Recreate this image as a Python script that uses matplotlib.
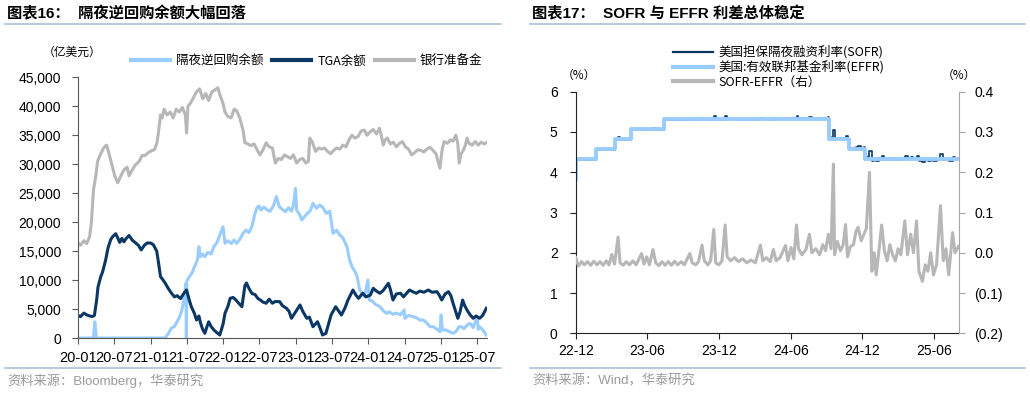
import numpy as np
import pandas as pd
import matplotlib
matplotlib.use('Agg')
import matplotlib.pyplot as plt
import matplotlib.dates as mdates
from matplotlib.lines import Line2D
from matplotlib.ticker import FuncFormatter

plt.rcParams['font.family'] = ['Liberation Sans', 'Noto Sans CJK SC', 'DejaVu Sans']
CJK = ['Noto Sans CJK SC', 'DejaVu Sans']

# ---------- 图表16 data (亿美元) ----------
rrp = [('2020-01-01', 0), ('2020-03-20', 0), ('2020-03-27', 2800), ('2020-04-03', 200), ('2020-04-10', 0),
       ('2021-03-15', 0), ('2021-04-01', 800), ('2021-04-15', 1670), ('2021-05-01', 2000), ('2021-05-10', 2540),
       ('2021-05-25', 3500), ('2021-06-05', 4500), ('2021-06-15', 6000), ('2021-06-28', 9440), ('2021-06-30', 0),
       ('2021-07-02', 9800), ('2021-07-15', 10580), ('2021-07-28', 11200), ('2021-08-10', 12300), ('2021-08-25', 13500),
       ('2021-09-01', 15760), ('2021-09-08', 14030), ('2021-09-20', 14500), ('2021-10-01', 14030), ('2021-10-15', 14800),
       ('2021-11-01', 14500), ('2021-11-15', 15760), ('2021-12-01', 16500), ('2021-12-15', 17800), ('2021-12-31', 19210),
       ('2022-01-10', 16340), ('2022-01-25', 16800), ('2022-02-10', 16300), ('2022-02-25', 16900), ('2022-03-10', 16340),
       ('2022-03-25', 17000), ('2022-04-10', 18000), ('2022-04-25', 18640), ('2022-05-10', 18200), ('2022-05-25', 19210),
       ('2022-06-10', 21500), ('2022-06-20', 22500), ('2022-06-30', 22800), ('2022-07-10', 22090), ('2022-07-25', 22600),
       ('2022-08-10', 22090), ('2022-08-25', 21900), ('2022-09-10', 22800), ('2022-09-25', 24390), ('2022-10-10', 22660),
       ('2022-10-25', 22200), ('2022-11-10', 21800), ('2022-11-25', 22500), ('2022-12-10', 21900), ('2022-12-20', 22900),
       ('2022-12-30', 25830), ('2023-01-05', 22090), ('2023-01-20', 21300), ('2023-01-31', 20370), ('2023-02-15', 21000),
       ('2023-02-28', 21520), ('2023-03-15', 22000), ('2023-03-28', 23240), ('2023-04-15', 22400), ('2023-05-01', 22950),
       ('2023-05-15', 22600), ('2023-06-03', 21520), ('2023-06-20', 21900), ('2023-07-07', 18070), ('2023-07-25', 18600),
       ('2023-08-10', 17780), ('2023-08-25', 17300), ('2023-09-05', 16500), ('2023-09-15', 15760), ('2023-09-28', 13500),
       ('2023-10-10', 12300), ('2023-10-25', 11500), ('2023-11-05', 10580), ('2023-11-18', 8280), ('2023-12-12', 7130),
       ('2023-12-29', 10010), ('2024-01-05', 6560), ('2024-01-20', 6400), ('2024-02-05', 5800), ('2024-02-28', 5400),
       ('2024-03-15', 4700), ('2024-04-01', 4260), ('2024-04-15', 4500), ('2024-05-01', 4100), ('2024-05-20', 4300),
       ('2024-06-10', 4000), ('2024-06-28', 4830), ('2024-07-02', 3400), ('2024-07-20', 3900), ('2024-08-12', 3680),
       ('2024-08-30', 3500), ('2024-09-15', 3100), ('2024-10-03', 3110), ('2024-10-20', 2600), ('2024-11-05', 1950),
       ('2024-11-22', 1950), ('2024-12-10', 1500), ('2024-12-25', 1090), ('2024-12-31', 3970), ('2025-01-06', 1400),
       ('2025-01-25', 1380), ('2025-02-10', 1100), ('2025-03-01', 810), ('2025-03-15', 1100), ('2025-03-31', 1950),
       ('2025-04-12', 1950), ('2025-04-25', 1600), ('2025-05-10', 2200), ('2025-05-25', 2540), ('2025-06-10', 1800),
       ('2025-06-30', 3680), ('2025-07-05', 1500), ('2025-07-12', 1950), ('2025-07-28', 1400), ('2025-08-15', 520)]

tga = [('2020-01-01', 3900), ('2020-01-15', 3700), ('2020-02-01', 4300), ('2020-02-15', 4000), ('2020-03-01', 3800),
       ('2020-03-15', 3700), ('2020-03-25', 3900), ('2020-04-05', 6500), ('2020-04-12', 8800), ('2020-04-25', 10500),
       ('2020-05-05', 11400), ('2020-05-20', 13400), ('2020-06-01', 15500), ('2020-06-15', 17000), ('2020-06-25', 17500),
       ('2020-07-10', 18000), ('2020-07-20', 17300), ('2020-07-30', 16500), ('2020-08-10', 17200), ('2020-08-20', 16600),
       ('2020-09-01', 17200), ('2020-09-15', 17700), ('2020-10-01', 16900), ('2020-10-15', 16500), ('2020-11-01', 16000),
       ('2020-11-15', 15200), ('2020-12-01', 16000), ('2020-12-15', 16400), ('2021-01-01', 16400), ('2021-01-15', 16100),
       ('2021-02-01', 15000), ('2021-02-10', 13000), ('2021-02-20', 10600), ('2021-03-05', 10000), ('2021-03-15', 9500),
       ('2021-04-01', 8500), ('2021-04-15', 7800), ('2021-05-01', 7100), ('2021-05-15', 7300), ('2021-06-01', 6800),
       ('2021-06-15', 7600), ('2021-07-01', 8300), ('2021-07-15', 6500), ('2021-07-25', 5400), ('2021-08-10', 4200),
       ('2021-08-20', 3100), ('2021-09-01', 3800), ('2021-09-10', 2500), ('2021-09-20', 1500), ('2021-10-01', 800),
       ('2021-10-10', 1800), ('2021-10-20', 2800), ('2021-11-01', 2000), ('2021-11-15', 1400), ('2021-12-01', 900),
       ('2021-12-15', 520), ('2022-01-01', 2500), ('2022-01-10', 4260), ('2022-01-25', 5500), ('2022-02-05', 6850),
       ('2022-02-20', 7000), ('2022-03-05', 6600), ('2022-03-20', 6000), ('2022-04-05', 5400), ('2022-04-20', 9000),
       ('2022-04-28', 9500), ('2022-05-10', 8600), ('2022-05-25', 7700), ('2022-06-10', 7500), ('2022-06-25', 6800),
       ('2022-07-05', 6600), ('2022-07-20', 6200), ('2022-08-05', 6000), ('2022-08-20', 6700), ('2022-09-05', 6000),
       ('2022-09-20', 6300), ('2022-10-12', 6270), ('2022-10-25', 5600), ('2022-11-15', 5130), ('2022-11-28', 4600),
       ('2022-12-10', 3400), ('2022-12-25', 4200), ('2023-01-22', 5700), ('2023-02-05', 4600), ('2023-02-25', 3400),
       ('2023-03-10', 3600), ('2023-03-28', 1950), ('2023-04-20', 2810), ('2023-05-05', 1500), ('2023-05-15', 520),
       ('2023-06-01', 810), ('2023-06-15', 2500), ('2023-06-27', 3970), ('2023-07-20', 5400), ('2023-08-05', 4600),
       ('2023-08-18', 3970), ('2023-09-05', 5200), ('2023-09-20', 6560), ('2023-10-15', 8280), ('2023-10-30', 7400),
       ('2023-11-12', 6850), ('2023-12-03', 7720), ('2023-12-20', 7100), ('2024-01-10', 7400), ('2024-01-25', 8580),
       ('2024-02-10', 8100), ('2024-02-27', 7720), ('2024-03-15', 8200), ('2024-04-10', 9440), ('2024-04-20', 8400),
       ('2024-05-03', 6560), ('2024-05-20', 7600), ('2024-06-10', 7720), ('2024-06-25', 7100), ('2024-07-10', 7700),
       ('2024-07-25', 8280), ('2024-08-10', 8000), ('2024-08-28', 7720), ('2024-09-15', 8100), ('2024-10-05', 7900),
       ('2024-10-28', 8280), ('2024-11-15', 7900), ('2024-12-10', 7990), ('2024-12-20', 7500), ('2025-01-03', 6560),
       ('2025-01-20', 7600), ('2025-02-06', 7990), ('2025-02-18', 7300), ('2025-03-01', 5990), ('2025-03-12', 4800),
       ('2025-03-25', 3400), ('2025-04-05', 4500), ('2025-04-18', 6560), ('2025-04-28', 5600), ('2025-05-15', 4540),
       ('2025-05-28', 3900), ('2025-06-10', 3400), ('2025-06-25', 3800), ('2025-07-12', 3400), ('2025-07-28', 3900),
       ('2025-08-15', 5130)]

reserves = [('2020-01-01', 16500), ('2020-01-15', 16000), ('2020-02-01', 16800), ('2020-02-15', 16300), ('2020-03-01', 17500),
            ('2020-03-10', 20000), ('2020-03-20', 25500), ('2020-04-01', 28000), ('2020-04-10', 30500), ('2020-04-22', 31500),
            ('2020-05-10', 32800), ('2020-05-25', 33300), ('2020-06-05', 32000), ('2020-06-20', 30000), ('2020-07-05', 28000),
            ('2020-07-20', 26800), ('2020-08-05', 28000), ('2020-08-20', 29000), ('2020-09-05', 29500), ('2020-09-15', 28000),
            ('2020-10-01', 29000), ('2020-10-15', 29800), ('2020-11-05', 30500), ('2020-11-20', 31500), ('2020-12-05', 31500),
            ('2020-12-20', 32000), ('2021-01-05', 32300), ('2021-01-20', 32500), ('2021-02-01', 33500), ('2021-02-10', 35500),
            ('2021-02-20', 38500), ('2021-03-01', 38000), ('2021-03-10', 39500), ('2021-03-25', 38500), ('2021-04-10', 39000),
            ('2021-04-25', 38000), ('2021-05-10', 39500), ('2021-05-25', 39000), ('2021-06-10', 39800), ('2021-06-25', 38500),
            ('2021-07-01', 35400), ('2021-07-08', 40000), ('2021-07-20', 40500), ('2021-08-05', 41500), ('2021-08-20', 42500),
            ('2021-09-05', 43000), ('2021-09-20', 41300), ('2021-10-05', 42200), ('2021-10-20', 41000), ('2021-11-05', 42500),
            ('2021-11-20', 42800), ('2021-12-05', 43200), ('2021-12-15', 42000), ('2021-12-31', 40500), ('2022-01-10', 39000),
            ('2022-01-25', 38200), ('2022-02-10', 38000), ('2022-02-25', 39500), ('2022-03-10', 39200), ('2022-03-25', 38000),
            ('2022-04-10', 36000), ('2022-04-20', 33700), ('2022-05-05', 33500), ('2022-05-20', 33200), ('2022-06-05', 33500),
            ('2022-06-20', 32500), ('2022-07-05', 31600), ('2022-07-20', 32500), ('2022-08-05', 33700), ('2022-08-20', 33000),
            ('2022-09-05', 32800), ('2022-09-20', 30200), ('2022-10-05', 31000), ('2022-10-20', 30800), ('2022-11-05', 31600),
            ('2022-11-20', 31300), ('2022-12-05', 31000), ('2022-12-20', 31600), ('2023-01-05', 30200), ('2023-01-20', 30800),
            ('2023-02-05', 31000), ('2023-02-20', 30200), ('2023-03-05', 30500), ('2023-03-12', 34500), ('2023-03-25', 33800),
            ('2023-04-10', 32200), ('2023-04-25', 32800), ('2023-05-10', 32600), ('2023-05-25', 32800), ('2023-06-10', 32200),
            ('2023-06-25', 31800), ('2023-07-10', 32400), ('2023-07-25', 32800), ('2023-08-10', 32600), ('2023-08-25', 33300),
            ('2023-09-10', 33000), ('2023-09-25', 34200), ('2023-10-10', 35000), ('2023-10-25', 34500), ('2023-11-10', 34800),
            ('2023-11-25', 35700), ('2023-12-10', 35900), ('2023-12-25', 35000), ('2024-01-10', 35600), ('2024-01-25', 36000),
            ('2024-02-10', 35200), ('2024-02-25', 36200), ('2024-03-05', 35000), ('2024-03-15', 33300), ('2024-03-25', 34200),
            ('2024-04-05', 34500), ('2024-04-20', 33500), ('2024-05-05', 33800), ('2024-05-20', 33000), ('2024-06-05', 33600),
            ('2024-06-20', 33900), ('2024-07-05', 33000), ('2024-07-20', 32600), ('2024-08-05', 31600), ('2024-08-20', 32000),
            ('2024-09-05', 32500), ('2024-09-20', 32400), ('2024-10-05', 32100), ('2024-10-20', 32600), ('2024-11-05', 32900),
            ('2024-11-20', 32400), ('2024-12-05', 31800), ('2024-12-25', 29300), ('2025-01-05', 32500), ('2025-01-15', 33900),
            ('2025-02-01', 33600), ('2025-02-15', 34200), ('2025-03-01', 34000), ('2025-03-15', 35000), ('2025-03-25', 33500),
            ('2025-04-01', 30200), ('2025-04-10', 31800), ('2025-04-20', 32300), ('2025-05-01', 33200), ('2025-05-10', 34500),
            ('2025-05-20', 33600), ('2025-06-05', 33300), ('2025-06-20', 33900), ('2025-07-05', 33300), ('2025-07-20', 33800),
            ('2025-08-05', 33500), ('2025-08-15', 33700)]

left_ticks = ['2020-01-01', '2020-07-01', '2021-01-01', '2021-07-01', '2022-01-01', '2022-07-01',
              '2023-01-01', '2023-07-01', '2024-01-01', '2024-07-01', '2025-01-01', '2025-07-01']

# ---------- 图表17 data (%) ----------
effr = [('2022-12-13', 3.83), ('2022-12-15', 4.33), ('2023-02-02', 4.58), ('2023-03-23', 4.83),
        ('2023-05-04', 5.08), ('2023-07-27', 5.33), ('2024-09-19', 4.83), ('2024-11-08', 4.58),
        ('2024-12-19', 4.33), ('2025-08-15', 4.33)]

spread = [('2022-12-13', -0.012), ('2022-12-20', -0.033), ('2022-12-28', -0.022), ('2023-01-04', -0.03),
          ('2023-01-12', -0.022), ('2023-01-20', -0.031), ('2023-01-28', -0.021), ('2023-02-05', -0.03),
          ('2023-02-13', -0.022), ('2023-02-21', -0.031), ('2023-03-01', -0.02), ('2023-03-08', -0.03),
          ('2023-03-15', -0.004), ('2023-03-22', -0.028), ('2023-03-31', 0.039), ('2023-04-05', -0.025),
          ('2023-04-13', -0.031), ('2023-04-21', -0.022), ('2023-04-29', -0.03), ('2023-05-08', -0.02),
          ('2023-05-16', -0.03), ('2023-05-30', -0.002), ('2023-06-05', -0.028), ('2023-06-12', -0.01),
          ('2023-06-19', -0.03), ('2023-06-28', 0.008), ('2023-07-05', -0.025), ('2023-07-13', -0.032),
          ('2023-07-21', -0.022), ('2023-07-29', -0.031), ('2023-08-06', -0.022), ('2023-08-14', -0.031),
          ('2023-08-22', -0.021), ('2023-08-30', -0.03), ('2023-09-08', -0.022), ('2023-09-16', -0.03),
          ('2023-09-30', -0.002), ('2023-10-06', -0.025), ('2023-10-15', -0.03), ('2023-10-22', -0.022),
          ('2023-10-31', 0.019), ('2023-11-06', -0.02), ('2023-11-15', -0.03), ('2023-11-22', -0.02),
          ('2023-11-30', 0.058), ('2023-12-05', -0.025), ('2023-12-13', -0.03), ('2023-12-21', -0.02),
          ('2023-12-29', 0.069), ('2024-01-03', -0.01), ('2024-01-12', -0.02), ('2024-01-22', -0.012),
          ('2024-02-01', -0.022), ('2024-02-12', -0.015), ('2024-02-22', -0.025), ('2024-03-04', -0.018),
          ('2024-03-15', -0.025), ('2024-03-28', 0.019), ('2024-04-03', -0.02), ('2024-04-12', -0.012),
          ('2024-04-22', -0.022), ('2024-04-30', 0.008), ('2024-05-07', -0.02), ('2024-05-17', -0.012),
          ('2024-05-31', 0.018), ('2024-06-06', -0.02), ('2024-06-14', 0.013), ('2024-06-21', -0.015),
          ('2024-06-28', 0.069), ('2024-07-03', 0.01), ('2024-07-12', -0.005), ('2024-07-22', 0.008),
          ('2024-07-31', 0.046), ('2024-08-06', 0.0), ('2024-08-16', 0.01), ('2024-08-26', -0.005),
          ('2024-09-03', 0.02), ('2024-09-10', 0.005), ('2024-09-17', 0.046), ('2024-09-24', 0.01),
          ('2024-09-30', 0.22), ('2024-10-03', -0.005), ('2024-10-10', 0.028), ('2024-10-18', 0.005),
          ('2024-10-25', 0.02), ('2024-10-31', 0.07), ('2024-11-05', -0.01), ('2024-11-12', 0.015),
          ('2024-11-20', 0.02), ('2024-11-27', 0.054), ('2024-12-02', 0.063), ('2024-12-10', 0.03),
          ('2024-12-17', 0.046), ('2024-12-23', 0.06), ('2024-12-31', 0.2), ('2025-01-06', -0.046),
          ('2025-01-12', 0.0), ('2025-01-17', -0.055), ('2025-01-25', 0.013), ('2025-01-31', 0.069),
          ('2025-02-07', 0.005), ('2025-02-14', -0.02), ('2025-02-21', 0.02), ('2025-02-28', -0.005),
          ('2025-03-07', -0.02), ('2025-03-14', 0.01), ('2025-03-21', -0.005), ('2025-03-31', 0.079),
          ('2025-04-07', -0.005), ('2025-04-15', 0.046), ('2025-04-22', 0.0), ('2025-04-30', 0.079),
          ('2025-05-06', -0.046), ('2025-05-15', -0.071), ('2025-05-22', -0.03), ('2025-05-29', -0.046),
          ('2025-06-05', 0.0), ('2025-06-12', -0.055), ('2025-06-20', -0.03), ('2025-06-30', 0.117),
          ('2025-07-07', -0.02), ('2025-07-14', 0.01), ('2025-07-21', -0.055), ('2025-07-31', 0.05),
          ('2025-08-06', 0.0), ('2025-08-15', 0.016)]

right_ticks = ['2022-12-13', '2023-06-13', '2023-12-13', '2024-06-13', '2024-12-13', '2025-06-13']

NAVY = '#0b3764'
LIGHT = '#99ccff'
GRAY = '#b7b7b7'
SEP = '#a9c1d9'

W, H = 1030, 393
fig = plt.figure(figsize=(W / 100, H / 100), dpi=100)


def box(x0, y0, x1, y1):
    return [x0 / W, 1 - y1 / H, (x1 - x0) / W, (y1 - y0) / H]


def split(pairs):
    d = pd.to_datetime([p[0] for p in pairs])
    v = np.array([p[1] for p in pairs], dtype=float)
    return d, v


def hline(x0, x1, y):
    fig.add_artist(Line2D([x0 / W, x1 / W], [1 - y / H] * 2, color=SEP, lw=1.2))


# titles, separators, sources
fig.text(7 / W, 1 - 14 / H, '图表16：  隔夜逆回购余额大幅回落', fontsize=11, fontweight='bold', va='center')
fig.text(532 / W, 1 - 14 / H, '图表17：  SOFR 与 EFFR 利差总体稳定', fontsize=11, fontweight='bold', va='center')
hline(5, 501, 23.5)
hline(530, 1025, 23.5)
hline(5, 501, 368)
hline(530, 1025, 368)
fig.text(7 / W, 1 - 381 / H, '资料来源：Bloomberg，华泰研究', fontsize=9.5, color='#9a9a9a', va='center')
fig.text(532 / W, 1 - 381 / H, '资料来源：Wind，华泰研究', fontsize=9.5, color='#9a9a9a', va='center')

# ---------- left chart ----------
ax = fig.add_axes(box(77.7, 77.3, 486.7, 338))
d, v = split(rrp)
ax.plot(d, v, color=LIGHT, lw=2.2, label='隔夜逆回购余额')
d, v = split(tga)
ax.plot(d, v, color=NAVY, lw=2.2, label='TGA余额')
d, v = split(reserves)
ax.plot(d, v, color=GRAY, lw=2.2, label='银行准备金')
ax.set_ylim(0, 45000)
ax.set_xlim(pd.Timestamp('2020-01-01'), pd.Timestamp('2025-08-17'))
ax.set_yticks(np.arange(0, 45001, 5000))
ax.yaxis.set_major_formatter(FuncFormatter(lambda x, p: f'{x:,.0f}'))
ax.set_xticks(pd.to_datetime(left_ticks))
ax.xaxis.set_major_formatter(mdates.DateFormatter('%y-%m'))
for s in ['top', 'right']:
    ax.spines[s].set_visible(False)
for s in ['left', 'bottom']:
    ax.spines[s].set_color('#595959')
ax.tick_params(axis='y', direction='out', length=4, color='#595959', labelsize=10, pad=8)
ax.tick_params(axis='x', direction='out', length=4, color='#595959', labelsize=10.5, pad=5)
fig.text(72 / W, 1 - 52 / H, '（亿美元）', fontsize=8.5, family=CJK, ha='center', va='center')
leg = ax.legend(ncol=3, frameon=False, loc='center left', bbox_to_anchor=(131 / W, 1 - 61 / H),
                bbox_transform=fig.transFigure, prop={'family': CJK, 'size': 9},
                handlelength=3.1, handletextpad=0.5, columnspacing=0.7, borderpad=0, borderaxespad=0)
for h in leg.get_lines():
    h.set_linewidth(3)

# ---------- right chart ----------
ax2 = fig.add_axes(box(575.7, 91.7, 959.3, 333.3))
ax3 = ax2.twinx()
ed, ev = split(effr)
sd, sv = split(spread)
# SOFR = EFFR + (SOFR-EFFR), evaluated on the combined dates
alld = ed.union(sd)
eff_at = ev[np.searchsorted(ed.values, alld.values, side='right') - 1]
spr_at = np.interp(alld.values.astype('int64'), sd.values.astype('int64'), sv)
ax2.plot(alld, eff_at + spr_at, color=NAVY, lw=1.2, drawstyle='steps-post', label='美国担保隔夜融资利率(SOFR)')
ax2.plot(ed, ev, color=LIGHT, lw=2.8, drawstyle='steps-post', label='美国:有效联邦基金利率(EFFR)')
ax3.plot(sd, sv, color=GRAY, lw=2.2, label='SOFR-EFFR（右）')
ax2.set_ylim(0, 6)
ax3.set_ylim(-0.2, 0.4)
ax2.set_xlim(pd.Timestamp('2022-12-13'), pd.Timestamp('2025-08-17'))
ax2.set_yticks(range(0, 7))
ax3.set_yticks(np.arange(-0.2, 0.41, 0.1))
ax3.yaxis.set_major_formatter(FuncFormatter(lambda x, p: f'({abs(x):.1f})' if x < -1e-9 else f'{abs(x):.1f}'))
ax2.set_xticks(pd.to_datetime(right_ticks))
ax2.xaxis.set_major_formatter(mdates.DateFormatter('%y-%m'))
for a in (ax2, ax3):
    a.spines['top'].set_visible(False)
ax2.spines['right'].set_visible(False)
ax3.spines['left'].set_visible(False)
ax3.spines['bottom'].set_visible(False)
ax2.spines['left'].set_color('#222222')
ax2.spines['bottom'].set_color('#222222')
ax3.spines['right'].set_color('#a6a6a6')
ax2.tick_params(axis='y', direction='out', length=4, color='#222222', labelsize=10, pad=9)
ax2.tick_params(axis='x', direction='out', length=4, color='#222222', labelsize=10, pad=4)
ax3.tick_params(axis='y', direction='out', length=4, color='#a6a6a6', labelsize=10, pad=7)
fig.text(579 / W, 1 - 75 / H, '（%）', fontsize=8.5, family=CJK, ha='center', va='center')
fig.text(959 / W, 1 - 75 / H, '（%）', fontsize=8.5, family=CJK, ha='center', va='center')
handles = ax2.get_lines() + ax3.get_lines()
leg2 = fig.legend(handles=handles, labels=[h.get_label() for h in handles], loc='upper left',
                  bbox_to_anchor=(673 / W, 1 - 45.5 / H), frameon=False, prop={'family': CJK, 'size': 9},
                  handlelength=3.2, handletextpad=0.4, labelspacing=0.12, borderpad=0, borderaxespad=0)
for h, lw in zip(leg2.get_lines(), [1.6, 3, 3]):
    h.set_linewidth(lw)

fig.savefig('out.png', dpi=100)
